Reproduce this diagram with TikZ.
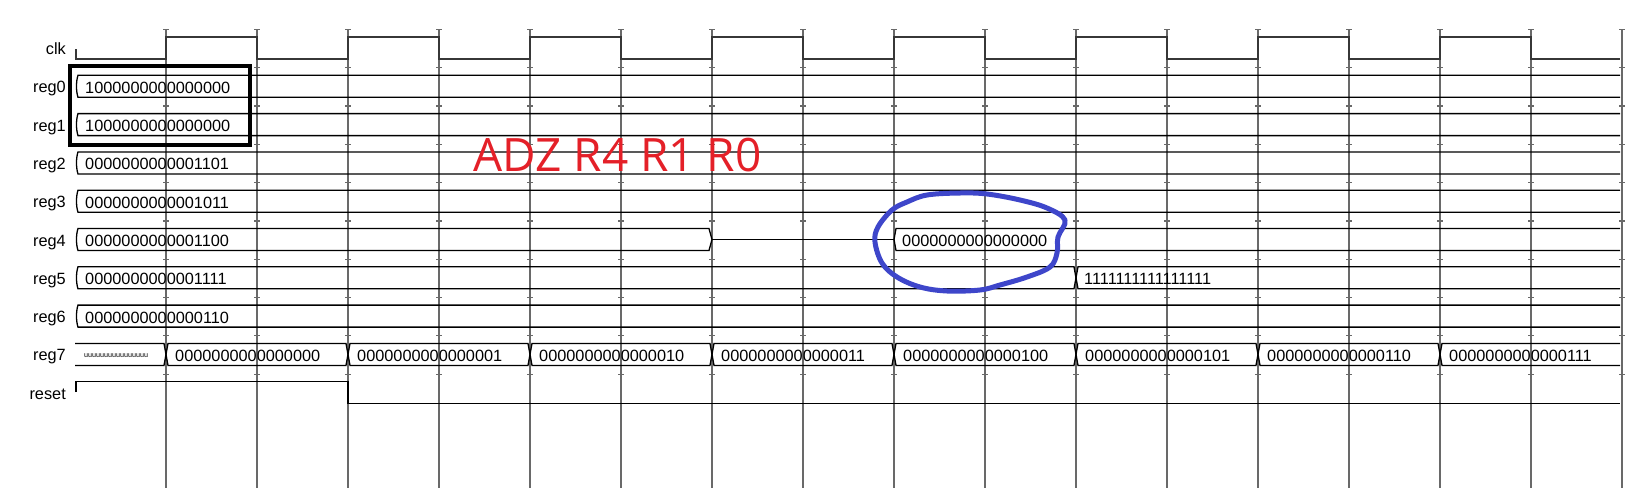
\documentclass[tikz,border=0pt]{standalone}
\usepackage{fontspec}
\setmainfont{Liberation Sans}
\newfontfamily\notefont{Open Sans}
\usepackage{xcolor}
\usepackage{tikz}
\usetikzlibrary{positioning}

\definecolor{gridgray}{RGB}{105,105,105}
\definecolor{clkgray}{RGB}{55,55,55}
\definecolor{notered}{RGB}{228,32,40}
\definecolor{markblue}{RGB}{62,70,202}

\begin{document}
\begin{tikzpicture}[x=1pt, y=-1pt,
  sig/.style={anchor=base east, inner sep=0pt, font=\fontsize{16.3}{19}\selectfont},
  val/.style={anchor=base west, inner sep=0pt, font=\fontsize{16.3}{19}\selectfont},
  bus/.style={draw=black, line width=1.3pt},
  clkwave/.style={draw=clkgray, line width=2pt},
  gridline/.style={draw=gridgray, line width=1.5pt},
  tick/.style={draw=gridgray, line width=1.2pt}
]
  \useasboundingbox (0,0) rectangle (1650,488);

  \foreach \x in {166,257,...,1622} {
    \draw[gridline] (\x,29) -- (\x,488);
    \foreach \t in {0,...,9}
      \draw[tick] (\x-3,29.4+38.3*\t) -- (\x+3,29.4+38.3*\t);
  }

  \foreach \n [count=\k from 0] in {clk,reg0,reg1,reg2,reg3,reg4,reg5,reg6,reg7,reset}
    \node[sig] (\n) at (66,54.5+38.3*\k) {\n};

  \draw[clkwave] (76,49) -- (76,59)
    foreach \i in {0,...,7} { -- (166+182*\i,59) -- (166+182*\i,37) -- (257+182*\i,37) -- (257+182*\i,59) }
    -- (1620,59);

  \foreach \k/\v in {1/1000000000000000,2/1000000000000000,3/0000000000001101,4/0000000000001011,7/0000000000000110} {
    \begin{scope}[shift={(0,48+38.3*\k)}]
      \draw[bus] (1620,-11) -- (78,-11) .. controls (76,-5) and (76,5) .. (78,11) -- (1620,11);
      \node[val] (val\k) at (85,7) {\v};
    \end{scope}
  }

  \begin{scope}[shift={(0,239.5)}]
    \draw[bus] (712,0) -- (709,-11) -- (78,-11) .. controls (76,-5) and (76,5) .. (78,11) -- (709,11) -- cycle;
    \draw[bus] (712,0) -- (894,0);
    \draw[bus] (1620,-11) -- (896,-11) -- (894,0) -- (896,11) -- (1620,11);
    \node[val] (val5) at (85,7) {0000000000001100};
    \node[val] (val5z) at (902,7) {0000000000000000};
  \end{scope}

  \begin{scope}[shift={(0,277.8)}]
    \draw[bus] (1076,0) -- (1074,-11) -- (78,-11) .. controls (76,-5) and (76,5) .. (78,11) -- (1074,11) -- cycle;
    \draw[bus] (1620,-11) -- (1078,-11) -- (1076,0) -- (1078,11) -- (1620,11);
    \node[val] (val6) at (85,7) {0000000000001111};
    \node[val] (val6n) at (1084,7) {1111111111111111};
  \end{scope}

  \begin{scope}[shift={(0,354.4)}]
    \draw[bus] (166,0) -- (164,-11) -- (75,-11) (75,11) -- (164,11) -- (166,0);
    \node[anchor=base west, inner sep=0pt, font=\fontsize{7.2}{8}\selectfont] (val8u) at (84,2.6) {uuuuuuuuuuuuuuuu};
    \foreach \a/\v in {166/0000000000000000,348/0000000000000001,530/0000000000000010,712/0000000000000011,
                       894/0000000000000100,1076/0000000000000101,1258/0000000000000110} {
      \draw[bus] (\a,0) -- (\a+2,-11) -- (\a+180,-11) -- (\a+182,0) -- (\a+180,11) -- (\a+2,11) -- cycle;
      \node[val] (val8-\a) at (\a+9,7) {\v};
    }
    \draw[bus] (1620,-11) -- (1442,-11) -- (1440,0) -- (1442,11) -- (1620,11);
    \node[val] (val8-1440) at (1449,7) {0000000000000111};
  \end{scope}

  \draw[bus] (76,392) -- (76,381.7) -- (348,381.7) -- (348,403.7) -- (1620,403.7);

  \draw[line width=4pt] (69.7,66) rectangle (249.7,144.7);
  \node[anchor=base west, inner sep=0pt, text=notered, font=\notefont\fontsize{46}{52}\selectfont] (note) at (473,171) {ADZ R4 R1 R0};

  \draw[markblue, line width=5pt, line cap=round, line join=round] plot[smooth cycle, tension=0.6] coordinates {
    (1065,220) (1058,237) (1057,253) (1050,267) (1027,277) (1000,285) (980,290) (947,291) (920,287)
    (897,277) (882,263) (875,242) (878,227) (892,210) (907,202) (927,195) (960,193) (987,194)
    (1020,200) (1047,208)};
\end{tikzpicture}
\end{document}
